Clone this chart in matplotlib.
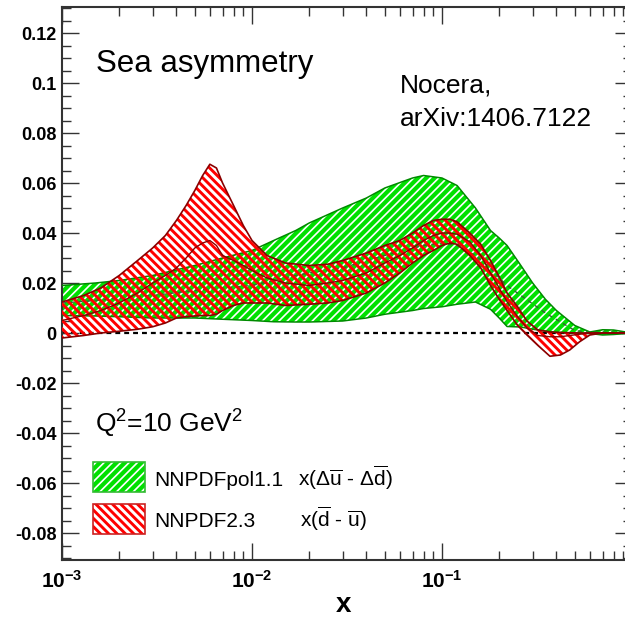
import matplotlib
matplotlib.use("Agg")
import matplotlib.pyplot as plt
from matplotlib.patches import Rectangle

# =========================
# data: x * (sea asymmetry) at Q^2 = 10 GeV^2
# =========================
X_RED = [0.001, 0.0013, 0.0016, 0.002, 0.0025, 0.003, 0.0035, 0.004, 0.0045, 0.005,
         0.0055, 0.006, 0.0065, 0.007, 0.008, 0.009, 0.01, 0.012, 0.015, 0.02,
         0.025, 0.03, 0.04, 0.05, 0.06, 0.07, 0.08, 0.09, 0.1, 0.11,
         0.12, 0.14, 0.16, 0.18, 0.2, 0.22, 0.25, 0.28, 0.32, 0.37,
         0.42, 0.47, 0.53, 0.6, 0.7, 0.8, 1.0]
RED_UP = [0.0124, 0.015, 0.018, 0.023, 0.029, 0.034, 0.039, 0.045, 0.051, 0.057,
          0.063, 0.0675, 0.066, 0.060, 0.051, 0.043, 0.037, 0.031, 0.028, 0.027,
          0.0275, 0.029, 0.032, 0.035, 0.037, 0.040, 0.043, 0.045, 0.0455, 0.0455,
          0.0445, 0.040, 0.0355, 0.029, 0.0225, 0.016, 0.0105, 0.0048, 0.0012, 0.0004,
          0.0002, 0.0001, 0.0, 0.0, 0.0, 0.0, 0.0]
RED_LO = [-0.002, -0.001, 0.0, 0.0007, 0.0015, 0.0025, 0.004, 0.006, 0.0065, 0.0068,
          0.007, 0.007, 0.0075, 0.009, 0.011, 0.012, 0.012, 0.012, 0.011, 0.0115,
          0.012, 0.013, 0.016, 0.020, 0.024, 0.028, 0.031, 0.033, 0.035, 0.036,
          0.0355, 0.031, 0.026, 0.019, 0.0135, 0.009, 0.003, -0.0008, -0.005, -0.0093,
          -0.0088, -0.0068, -0.0035, -0.0008, 0.0, 0.0, 0.0]
RED_MID = [0.005, 0.007, 0.009, 0.012, 0.016, 0.020, 0.023, 0.026, 0.030, 0.034,
           0.036, 0.037, 0.035, 0.031, 0.029, 0.027, 0.025, 0.022, 0.020, 0.019,
           0.020, 0.021, 0.024, 0.028, 0.031, 0.034, 0.037, 0.039, 0.040, 0.040,
           0.0395, 0.0365, 0.031, 0.024, 0.018, 0.0125, 0.0065, 0.002, -0.001, -0.0015,
           -0.0015, -0.001, -0.0005, 0.0, 0.0, 0.0, 0.0]

X_GREEN = [0.001, 0.0015, 0.002, 0.003, 0.005, 0.007, 0.01, 0.013, 0.017, 0.02,
           0.03, 0.04, 0.05, 0.07, 0.08, 0.1, 0.12, 0.15, 0.18, 0.2,
           0.22, 0.26, 0.3, 0.35, 0.4, 0.5, 0.6, 0.7, 0.8, 1.0]
GREEN_UP = [0.019, 0.020, 0.021, 0.023, 0.027, 0.030, 0.033, 0.037, 0.041, 0.044,
            0.050, 0.054, 0.058, 0.062, 0.063, 0.062, 0.059, 0.050, 0.041, 0.038,
            0.035, 0.027, 0.020, 0.0135, 0.009, 0.003, 0.0004, 0.0013, 0.0012, 0.0]
GREEN_LO = [0.007, 0.0068, 0.0065, 0.006, 0.006, 0.0055, 0.005, 0.0045, 0.0044, 0.0044,
            0.0048, 0.006, 0.0075, 0.009, 0.0098, 0.0105, 0.0115, 0.0124, 0.0095, 0.006,
            0.0026, 0.0024, 0.0015, 0.0008, 0.0003, 0.0, -0.0002, -0.0008, -0.0006, 0.0]
GREEN_MID = [0.012, 0.013, 0.014, 0.015, 0.017, 0.018, 0.019, 0.021, 0.023, 0.024,
             0.026, 0.029, 0.031, 0.034, 0.035, 0.036, 0.035, 0.031, 0.026, 0.022,
             0.019, 0.015, 0.0117, 0.008, 0.0054, 0.001, 0.0002, 0.0003, 0.0003, 0.0]

Y_TICKS = [-0.08, -0.06, -0.04, -0.02, 0, 0.02, 0.04, 0.06, 0.08, 0.1, 0.12]
Y_TICK_LABELS = ["-0.08", "-0.06", "-0.04", "-0.02", "0", "0.02", "0.04", "0.06",
                 "0.08", "0.1", "0.12"]
X_TICKS = [1e-3, 1e-2, 1e-1]
X_TICK_LABELS = [r"$\mathbf{10^{-3}}$", r"$\mathbf{10^{-2}}$", r"$\mathbf{10^{-1}}$"]

GREEN = "#00e000"
GREEN_EDGE = "#008a00"
RED = "#ff0000"
RED_EDGE = "#8a0000"
FRAME = "#333333"

GREEN_HATCH = "////"
RED_HATCH = "\\\\\\\\"
GREEN_HLW = 1.2
RED_HLW = 2.1

plt.rcParams["font.family"] = ["Liberation Sans", "DejaVu Sans"]
plt.rcParams["mathtext.fontset"] = "custom"
plt.rcParams["mathtext.rm"] = "Liberation Sans"
plt.rcParams["mathtext.it"] = "Liberation Sans:italic"
plt.rcParams["mathtext.bf"] = "Liberation Sans:bold"


def hatched(artist, lw):
    if hasattr(artist, "set_hatch_linewidth"):
        artist.set_hatch_linewidth(lw)


def main():
    fig = plt.figure(figsize=(6.25, 6.2), dpi=100)
    # axes box in pixels: x 62..632 (runs past the right edge), y 7..560
    ax = fig.add_axes([62 / 625, 60 / 620, 570 / 625, 553 / 620])

    ax.set_xscale("log")
    ax.set_xlim(1e-3, 1.0)
    ax.set_ylim(-0.0908, 0.1304)

    ax.axhline(0, color="black", lw=1.6, ls=(0, (2.2, 1.8)), zorder=1)

    # NNPDFpol1.1 band
    plt.rcParams["hatch.linewidth"] = GREEN_HLW
    g = ax.fill_between(X_GREEN, GREEN_LO, GREEN_UP, facecolor=GREEN,
                        edgecolor="white", hatch=GREEN_HATCH, linewidth=0, zorder=2)
    hatched(g, GREEN_HLW)
    ax.plot(X_GREEN, GREEN_UP, color=GREEN_EDGE, lw=1.1, zorder=3)
    ax.plot(X_GREEN, GREEN_LO, color=GREEN_EDGE, lw=1.1, zorder=3)
    ax.plot(X_GREEN, GREEN_MID, color="#336633", lw=1.0, ls=(0, (3, 3)), zorder=3)

    # NNPDF2.3 band
    plt.rcParams["hatch.linewidth"] = RED_HLW
    r = ax.fill_between(X_RED, RED_LO, RED_UP, facecolor="none",
                        edgecolor=RED, hatch=RED_HATCH, linewidth=0, zorder=4)
    hatched(r, RED_HLW)
    ax.plot(X_RED, RED_UP, color=RED_EDGE, lw=1.2, zorder=5)
    ax.plot(X_RED, RED_LO, color=RED_EDGE, lw=1.2, zorder=5)
    ax.plot(X_RED, RED_MID, color=RED_EDGE, lw=1.0, zorder=5)

    # legend boxes
    plt.rcParams["hatch.linewidth"] = GREEN_HLW
    gb = Rectangle((31 / 570, 68 / 553), 52 / 570, 30 / 553, transform=ax.transAxes,
                   facecolor=GREEN, edgecolor="white", hatch=GREEN_HATCH, lw=0, zorder=6)
    hatched(gb, GREEN_HLW)
    ax.add_patch(gb)
    ax.add_patch(Rectangle((31 / 570, 68 / 553), 52 / 570, 30 / 553, transform=ax.transAxes,
                           facecolor="none", edgecolor="#33bb33", lw=1.2, zorder=7))
    plt.rcParams["hatch.linewidth"] = RED_HLW
    rb = Rectangle((31 / 570, 26 / 553), 52 / 570, 30 / 553, transform=ax.transAxes,
                   facecolor="none", edgecolor=RED, hatch=RED_HATCH, lw=0, zorder=6)
    hatched(rb, RED_HLW)
    ax.add_patch(rb)
    ax.add_patch(Rectangle((31 / 570, 26 / 553), 52 / 570, 30 / 553, transform=ax.transAxes,
                           facecolor="none", edgecolor="#cc2222", lw=1.2, zorder=7))

    ax.text(92 / 570, 74 / 553, "NNPDFpol1.1", transform=ax.transAxes, fontsize=15,
            va="baseline", ha="left")
    ax.text(236 / 570, 74 / 553,
            r"x($\Delta\overline{\rm u}$ - $\Delta\overline{\rm d}$)",
            transform=ax.transAxes, fontsize=15, va="baseline", ha="left")
    ax.text(92 / 570, 33 / 553, "NNPDF2.3", transform=ax.transAxes, fontsize=15,
            va="baseline", ha="left")
    ax.text(238 / 570, 33 / 553, r"x($\overline{\rm d}$ - $\overline{\rm u}$)",
            transform=ax.transAxes, fontsize=15, va="baseline", ha="left")

    ax.text(34 / 570, 488 / 553, "Sea asymmetry", transform=ax.transAxes, fontsize=22.5,
            va="baseline", ha="left")
    ax.text(338 / 570, 467 / 553, "Nocera,", transform=ax.transAxes, fontsize=19,
            va="baseline", ha="left")
    ax.text(338 / 570, 434 / 553, "arXiv:1406.7122", transform=ax.transAxes, fontsize=19,
            va="baseline", ha="left")
    ax.text(33 / 570, 127 / 553, r"Q$^{2}$=10 GeV$^{2}$", transform=ax.transAxes,
            fontsize=19, va="baseline", ha="left")

    # axes styling
    for s in ax.spines.values():
        s.set_color(FRAME)
        s.set_linewidth(1.5)
    ax.set_yticks(Y_TICKS)
    ax.set_yticklabels(Y_TICK_LABELS, fontweight="bold", fontsize=13)
    ax.yaxis.set_minor_locator(matplotlib.ticker.MultipleLocator(0.005))
    ax.set_xticks(X_TICKS)
    ax.set_xticklabels(X_TICK_LABELS, fontsize=15)
    ax.xaxis.set_minor_locator(matplotlib.ticker.LogLocator(base=10, subs=range(2, 10)))
    ax.xaxis.set_minor_formatter(matplotlib.ticker.NullFormatter())
    ax.tick_params(which="both", direction="in", top=True, right=True, color=FRAME,
                   width=1.0)
    ax.tick_params(which="major", length=12.5)
    ax.tick_params(which="minor", length=6.5)
    ax.tick_params(axis="y", which="major", pad=4)
    ax.tick_params(axis="x", which="major", pad=7)
    ax.set_xlabel("x", fontsize=20, fontweight="bold")
    ax.xaxis.set_label_coords(281 / 570, -0.058)

    fig.savefig("out.png", dpi=100)


if __name__ == "__main__":
    main()
